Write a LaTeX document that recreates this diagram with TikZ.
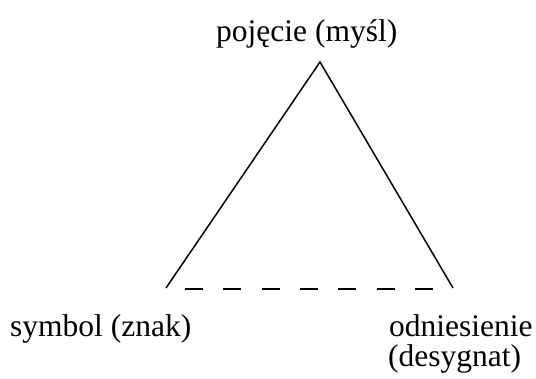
\documentclass[tikz,border=0pt]{standalone}
\usepackage{fontspec}
\setmainfont{Liberation Serif}
\begin{document}
\begin{tikzpicture}[x=1pt,y=1pt,
  lbl/.style={inner sep=0pt, font=\fontsize{31.5}{33}\selectfont},
  edge/.style={line width=1.5pt},
  dashedge/.style={line width=1.5pt, dash pattern=on 18pt off 20.3pt}]
\useasboundingbox (0,0) rectangle (536,379);
\coordinate (A) at (320,317);
\coordinate (L) at (166,91);
\coordinate (R) at (453,91);
\coordinate (dl) at (185,90);
\coordinate (dr) at (435,90);
\draw[edge] (L) -- (A) -- (R);
\draw[dashedge] (dl) -- (dr);
\node[lbl, anchor=base west] (top) at (216,337) {pojęcie (myśl)};
\node[lbl, anchor=base west] (sym) at (10,42) {symbol (znak)};
\node[lbl, anchor=base west] (ref) at (389,42) {odniesienie};
\node[lbl, anchor=base west] (refb) at (388,12) {(desygnat)};
\end{tikzpicture}
\end{document}
